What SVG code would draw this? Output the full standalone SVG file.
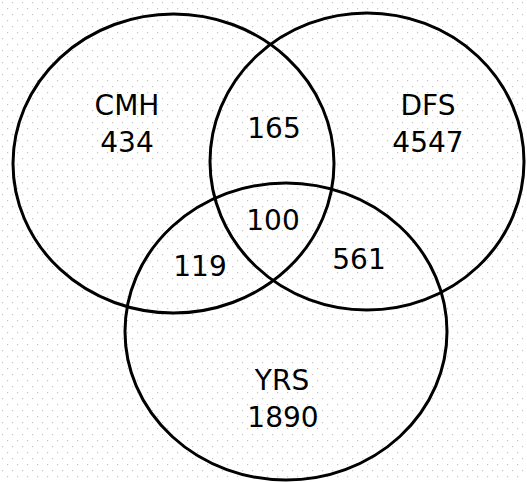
<svg xmlns="http://www.w3.org/2000/svg" width="527" height="482" viewBox="0 0 527 482">
<style>
.set{fill:none;stroke:#000;stroke-width:3}
.lbl{font-family:"DejaVu Sans","Liberation Sans",sans-serif;font-size:28px;fill:#000;text-anchor:middle}
</style>
<defs>
<pattern id="dots" width="10" height="12" patternUnits="userSpaceOnUse">
<rect x="2" y="2" width="1.2" height="1.2" fill="#c4c4c4"/>
<rect x="7" y="8" width="1.2" height="1.2" fill="#c4c4c4"/>
</pattern>
</defs>
<rect width="527" height="482" fill="#fff"/>
<rect width="527" height="482" fill="url(#dots)"/>
<g id="connectors"></g>
<g id="cmh">
<ellipse class="set" cx="173.5" cy="163.5" rx="160.5" ry="149.5"/>
<text class="lbl" x="127" y="115">CMH</text>
<text class="lbl" x="127" y="152">434</text>
</g>
<g id="dfs">
<ellipse class="set" cx="367" cy="161.5" rx="157" ry="148.5"/>
<text class="lbl" x="428" y="115">DFS</text>
<text class="lbl" x="428" y="152">4547</text>
</g>
<g id="yrs">
<ellipse class="set" cx="286" cy="331.5" rx="161" ry="148.5"/>
<text class="lbl" x="282" y="390">YRS</text>
<text class="lbl" x="283" y="427">1890</text>
</g>
<g id="overlaps">
<text class="lbl" x="274" y="138">165</text>
<text class="lbl" x="273" y="230">100</text>
<text class="lbl" x="200" y="276">119</text>
<text class="lbl" x="359" y="269">561</text>
</g>
</svg>
